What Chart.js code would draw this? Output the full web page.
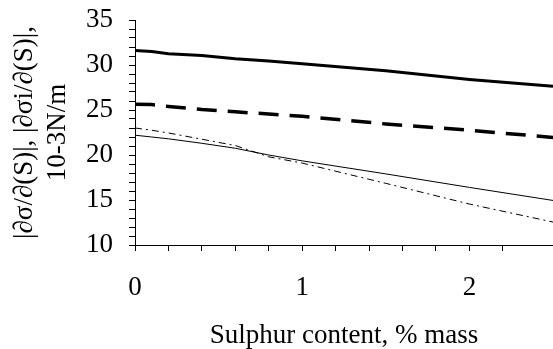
<!DOCTYPE html>
<html>
<head>
<meta charset="utf-8">
<script src="https://cdn.jsdelivr.net/npm/chart.js@4"></script>
<style>
  html, body { margin: 0; padding: 0; background: #fff; }
  #wrap { width: 553px; height: 349px; }
</style>
</head>
<body>
<div id="wrap"><canvas id="sulphurChart" width="553" height="349"></canvas></div>
<script>
// sulphur content, % mass
const sulphur = [0, 0.1, 0.2, 0.4, 0.6, 0.8, 1.0, 1.5, 2.0, 2.5];

// |dσ/d(S)|, |dσi/d(S)|, 10-3 N/m
const thickSolid  = [31.6, 31.5, 31.25, 31.05, 30.7, 30.45, 30.15, 29.35, 28.4, 27.65];
const thickDashed = [25.65, 25.6, 25.4, 25.05, 24.8, 24.55, 24.3, 23.45, 22.75, 21.95];
const thinSolid   = [22.2, 22.0, 21.8, 21.3, 20.75, 20.0, 19.35, 17.9, 16.4, 14.95];
const thinDashDot = [23.0, 22.75, 22.45, 21.75, 21.05, 19.8, 19.1, 16.85, 14.55, 12.55];

const yTickLabels = [10, 15, 20, 25, 30, 35];
const xTickLabels = [0, 1, 2];

const FONT = { family: "'Liberation Serif', 'Times New Roman', serif", size: 27 };

function toPoints(values) {
  return sulphur.map((s, i) => ({ x: s, y: values[i] }));
}

const ctx = document.getElementById('sulphurChart').getContext('2d');

new Chart(ctx, {
  type: 'line',
  data: {
    datasets: [{
      data: toPoints(thickSolid),
      borderColor: '#000',
      borderWidth: 3
    }, {
      data: toPoints(thickDashed),
      borderColor: '#000',
      borderWidth: 3.5,
      borderDash: [20, 11]
    }, {
      data: toPoints(thinSolid),
      borderColor: '#000',
      borderWidth: 1
    }, {
      data: toPoints(thinDashDot),
      borderColor: '#000',
      borderWidth: 1,
      borderDash: [7, 4, 2, 4]
    }]
  },
  options: {
    responsive: false,
    animation: false,
    devicePixelRatio: 1,
    layout: { padding: { top: 20, right: 0, left: 0, bottom: 0 } },
    elements: { point: { radius: 0 }, line: { tension: 0 } },
    plugins: {
      legend: { display: false },
      tooltip: { enabled: false }
    },
    scales: {
      x: {
        type: 'linear',
        min: 0,
        max: 2.5,
        afterFit: (scale) => { scale.height = 104; },
        afterBuildTicks: (scale) => {
          scale.ticks = scale.ticks.filter(t => t.value < 2.45);
        },
        border: { color: '#000', width: 1 },
        grid: { drawOnChartArea: false, drawTicks: true, tickLength: 6, color: '#000' },
        ticks: {
          stepSize: 0.2,
          autoSkip: false,
          maxRotation: 0,
          padding: 21,
          color: '#000',
          font: FONT,
          callback: (v) => {
            const r = Math.round(v);
            return (Math.abs(v - r) < 1e-6 && xTickLabels.includes(r)) ? String(r) : '';
          }
        },
        title: {
          display: true,
          text: 'Sulphur content, % mass',
          color: '#000',
          font: { ...FONT, lineHeight: 1.0 },
          padding: { top: 0, bottom: 0 }
        }
      },
      y: {
        min: 10,
        max: 35,
        afterFit: (scale) => {
          scale.width = 135;
          scale.paddingTop = 0;
          scale.paddingBottom = 0;
        },
        border: { color: '#000', width: 1 },
        grid: { drawOnChartArea: false, drawTicks: true, tickLength: 6, color: '#000' },
        ticks: {
          stepSize: 1,
          autoSkip: false,
          padding: 16,
          color: '#000',
          font: FONT,
          callback: (v) => yTickLabels.includes(v) ? String(v) : ''
        },
        title: {
          display: true,
          text: ['|∂σ/∂(S)|, |∂σi/∂(S)|,', '10-3N/m'],
          color: '#000',
          font: { ...FONT, lineHeight: 1.2 },
          padding: { top: 9, bottom: 0 }
        }
      }
    }
  }
});
</script>
</body>
</html>
